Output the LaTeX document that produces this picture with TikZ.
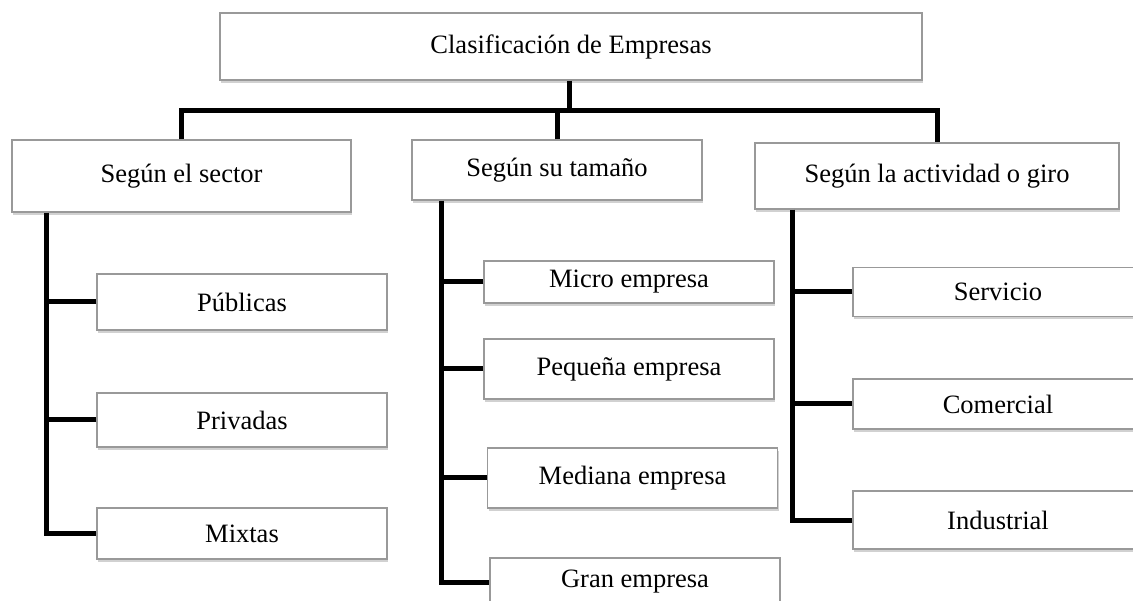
\documentclass[tikz,border=0pt]{standalone}
\usepackage{fontspec}
\setmainfont{Liberation Serif}
\usetikzlibrary{shadows}

\begin{document}
\begin{tikzpicture}[x=1pt,y=-1pt,
caja/.style={draw=black!40, line width=1.3pt, fill=white, inner sep=0pt,
    font=\fontsize{26.5}{30}\selectfont,
    drop shadow={shadow xshift=1pt, shadow yshift=-3pt, opacity=0.18, fill=black}},
hijo/.style={caja, minimum width=290pt},
linea/.style={line width=5pt, line join=miter}]
\useasboundingbox (0,0) rectangle (1133,601);
\node[caja, minimum width=702pt, minimum height=67pt] (raiz) at (571,46.5) {Clasificación de Empresas};
\node[caja, minimum width=339pt, minimum height=72pt] (sector) at (181.5,176) {Según el sector};
\node[caja, minimum width=290pt, minimum height=60pt] (tamano) at (557,170) {Según su tamaño};
\node[caja, minimum width=364pt, minimum height=66pt] (giro) at (937,176) {Según la actividad o giro};
\node[hijo, minimum height=56pt] (publicas) at (242,302) {Públicas};
\node[hijo, minimum height=54pt] (privadas) at (242,420) {Privadas};
\node[hijo, minimum height=51pt] (mixtas) at (242,533.5) {Mixtas};
\node[hijo, minimum height=42pt] (micro) at (629,282) {Micro empresa};
\node[hijo, minimum height=60pt] (pequena) at (629,369) {Pequeña empresa};
\node[hijo, minimum height=60pt] (mediana) at (632.5,478) {Mediana empresa};
\node[hijo, minimum height=48pt] (gran) at (635,582) {Gran empresa};
\node[hijo, minimum height=49pt] (servicio) at (998,292) {Servicio};
\node[hijo, minimum height=50pt] (comercial) at (998,404) {Comercial};
\node[hijo, minimum height=58pt] (industrial) at (998,520) {Industrial};
\coordinate (bus) at (569,111);
\coordinate (ejeA) at (46,0);
\coordinate (ejeB) at (441,0);
\coordinate (ejeC) at (792,0);
\draw[linea] (raiz.south -| bus) -- (bus);
\draw[linea] (sector.north) |- (bus) -| (giro.north);
\draw[linea] (tamano.north) -- (tamano.north |- bus);
\draw[linea] (sector.south -| ejeA) |- (mixtas.west);
\draw[linea] (publicas.west) -- (publicas.west -| ejeA);
\draw[linea] (privadas.west) -- (privadas.west -| ejeA);
\draw[linea] (tamano.south -| ejeB) |- (gran.west);
\draw[linea] (micro.west) -- (micro.west -| ejeB);
\draw[linea] (pequena.west) -- (pequena.west -| ejeB);
\draw[linea] (mediana.west) -- (mediana.west -| ejeB);
\draw[linea] (giro.south -| ejeC) |- (industrial.west);
\draw[linea] (servicio.west) -- (servicio.west -| ejeC);
\draw[linea] (comercial.west) -- (comercial.west -| ejeC);
\end{tikzpicture}
\end{document}
